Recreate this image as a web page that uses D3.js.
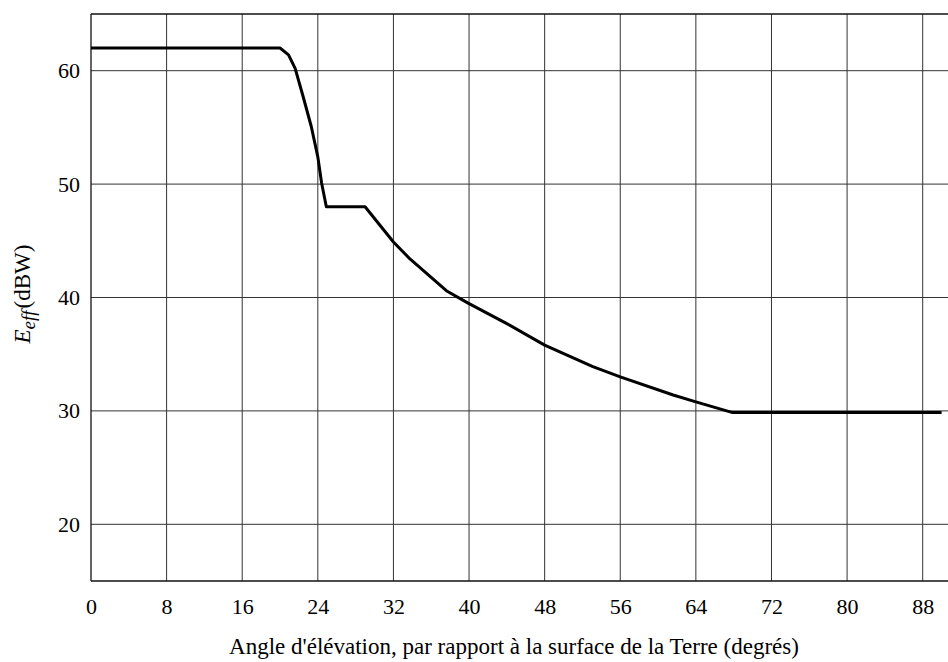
<!DOCTYPE html>
<html>
<head>
<meta charset="utf-8">
<script src="https://cdn.jsdelivr.net/npm/d3@7"></script>
<style>
  html, body { margin: 0; padding: 0; background: #fff; }
  svg { display: block; }
</style>
</head>
<body>
<svg id="chart" width="948" height="662"></svg>
<script>
// Data
const angles = [0, 20, 20.9, 21.6, 22.45, 23.3, 24.0, 24.4, 24.9, 29, 32, 33.75, 37.6, 39.9, 44, 48, 53.1, 56, 61.6, 64, 67.9, 90];
const eeff   = [62, 62, 61.4, 60.2, 57.7, 55.1, 52.4, 50.1, 48, 48, 44.9, 43.4, 40.6, 39.5, 37.7, 35.8, 33.9, 33.0, 31.4, 30.8, 29.85, 29.85];
const xTicks = [0, 8, 16, 24, 32, 40, 48, 56, 64, 72, 80, 88];
const yTicks = [20, 30, 40, 50, 60];
const xTitle = "Angle d'élévation, par rapport à la surface de la Terre (degrés)";

const FONT = "'Liberation Serif', 'Times New Roman', Tinos, 'DejaVu Serif'";
const svg = d3.select("#chart");
const mLeft = 91, mTop = 14, mBottom = 581;
const x = d3.scaleLinear().domain([0, 90]).range([mLeft, mLeft + 90 * 9.451]);
const y = d3.scaleLinear().domain([15, 65]).range([mBottom, mTop]);
const rightEdge = 948;

const g = svg.append("g");

g.selectAll(".hg").data(yTicks).enter().append("line")
  .attr("x1", mLeft).attr("x2", rightEdge)
  .attr("y1", d => y(d)).attr("y2", d => y(d))
  .attr("stroke", "#333").attr("stroke-width", 1);

g.selectAll(".vg").data(xTicks.filter(d => d > 0)).enter().append("line")
  .attr("x1", d => x(d)).attr("x2", d => x(d))
  .attr("y1", mTop).attr("y2", mBottom)
  .attr("stroke", "#333").attr("stroke-width", 1);

g.append("line").attr("x1", mLeft).attr("x2", rightEdge).attr("y1", mTop).attr("y2", mTop)
  .attr("stroke", "#111").attr("stroke-width", 1.3);
g.append("line").attr("x1", mLeft).attr("x2", rightEdge).attr("y1", mBottom).attr("y2", mBottom)
  .attr("stroke", "#111").attr("stroke-width", 1.3);
g.append("line").attr("x1", mLeft).attr("x2", mLeft).attr("y1", mTop).attr("y2", mBottom)
  .attr("stroke", "#111").attr("stroke-width", 1.3);

const TICK_FS = 22;
const xAxis = d3.axisBottom(x).tickValues(xTicks).tickSize(0).tickPadding(17);
const gx = svg.append("g").attr("transform", `translate(0,${mBottom})`).call(xAxis)
  .attr("font-family", FONT).attr("font-size", TICK_FS);
gx.select(".domain").remove();

const yAxis = d3.axisLeft(y).tickValues(yTicks).tickSize(0).tickPadding(11);
const gy = svg.append("g").attr("transform", `translate(${mLeft},0)`).call(yAxis)
  .attr("font-family", FONT).attr("font-size", TICK_FS);
gy.select(".domain").remove();

const line = d3.line().x((d, i) => x(angles[i])).y((d, i) => y(eeff[i]));
svg.append("path").datum(eeff)
  .attr("d", line)
  .attr("fill", "none").attr("stroke", "#000").attr("stroke-width", 3)
  .attr("stroke-linejoin", "round");

svg.append("text")
  .attr("x", 514).attr("y", 654)
  .attr("text-anchor", "middle")
  .attr("font-family", FONT).attr("font-size", 23)
  .text(xTitle);

const yt = svg.append("text")
  .attr("transform", `translate(30,294) rotate(-90)`)
  .attr("text-anchor", "middle")
  .attr("font-family", FONT).attr("font-size", 23);
yt.append("tspan").attr("font-style", "italic").text("E");
yt.append("tspan").attr("font-style", "italic").attr("font-size", 19).attr("dy", 5).text("eff");
yt.append("tspan").attr("dy", -5).attr("dx", 2).text("(dBW)");
</script>
</body>
</html>
